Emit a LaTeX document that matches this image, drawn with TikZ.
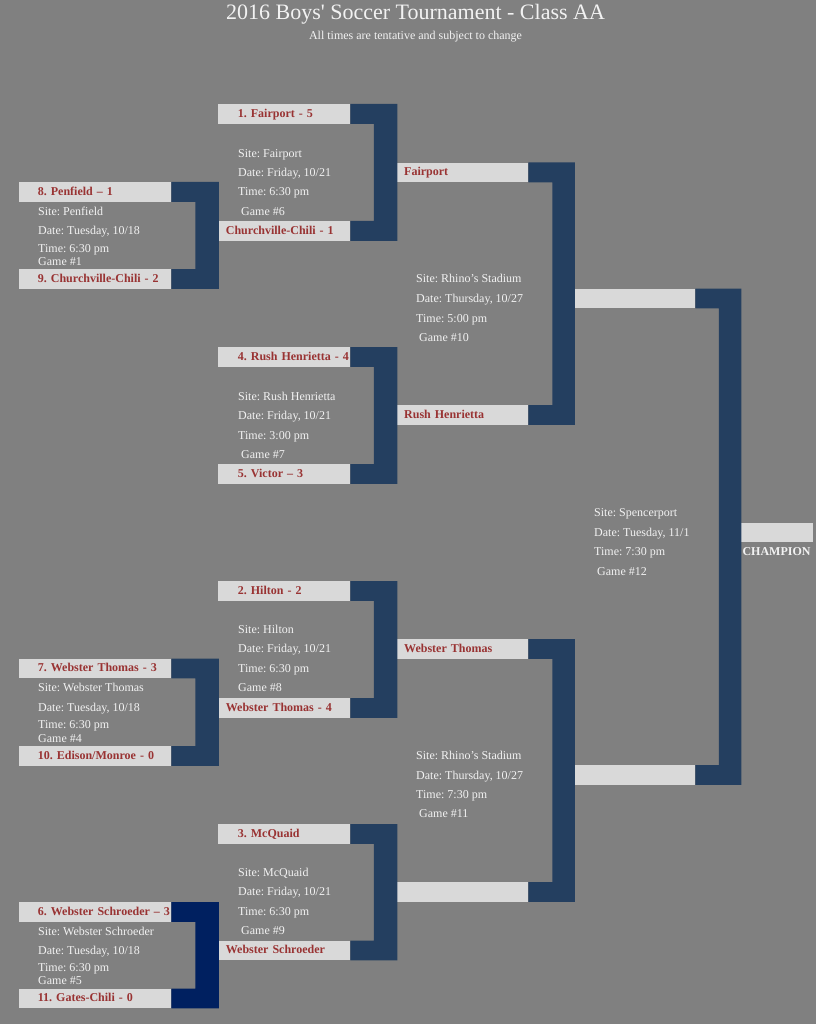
\documentclass[tikz,border=0pt]{standalone}
\usepackage{fontspec}
\setmainfont{Liberation Serif}[Ligatures=TeXOff]
\definecolor{bg}{HTML}{808080}
\definecolor{boxg}{HTML}{D9D9D9}
\definecolor{navy}{HTML}{243F60}
\definecolor{navyd}{HTML}{002060}
\definecolor{tred}{HTML}{993333}
\definecolor{tw}{HTML}{F2F2F2}
\tikzset{
  slot/.style 2 args={fill=boxg, anchor=north west, inner xsep=0pt, inner ysep=0pt,
    minimum height=19.4pt, text width=#1, align=left, text height=7.5pt, text depth=0.5pt,
    font=\fontsize{12}{14}\selectfont\bfseries, text=tred,
    execute at begin node={\frenchspacing\hspace*{#2}}},
  info/.style={anchor=base west, inner sep=0pt, text=tw, font=\fontsize{12}{14}\selectfont},
}
\newcommand\bracketfill[5][navy]{%
  \fill[#1] (#2.north east) -- ++(#5,0) |- (#3.south east) -- (#3.north east)
    -- ++(#4,0) |- (#2.south east) -- cycle;}
\begin{document}
\frenchspacing
\begin{tikzpicture}[x=1pt,y=-1pt]
\fill[bg] (0,0) rectangle (816,1024);
\useasboundingbox (0,0) rectangle (816,1024);

\node[anchor=base, inner sep=0pt, text=tw, font=\fontsize{22}{26}\selectfont] (title) at (415.5,19.6) {2016 Boys' Soccer Tournament - Class AA};
\node[anchor=base, inner sep=0pt, text=tw, font=\fontsize{12}{14}\selectfont] (sub) at (415.5,40) {All times are tentative and subject to change};

% Round 1
\node[slot={152.5pt}{19.2pt}] (g1t) at (18.5,182) {8. Penfield – 1};
\node[slot={152.5pt}{19.2pt}] (g1b) at (18.5,269) {9. Churchville-Chili - 2};
\node[slot={152.5pt}{19.2pt}] (g4t) at (18.5,658.5) {7. Webster Thomas - 3};
\node[slot={152.5pt}{19.2pt}] (g4b) at (18.5,746) {10. Edison/Monroe - 0};
\node[slot={152.5pt}{19.2pt}] (g5t) at (18.5,902) {6. Webster Schroeder – 3};
\node[slot={152.5pt}{19.2pt}] (g5b) at (18.5,988.5) {11. Gates-Chili - 0};
% Round 2
\node[slot={132pt}{19.7pt}] (g6t) at (218,104) {1. Fairport - 5};
\node[slot={132pt}{7.7pt}] (g6b) at (218,221) {Churchville-Chili - 1};
\node[slot={132pt}{19.7pt}] (g7t) at (218,347) {4. Rush Henrietta - 4};
\node[slot={132pt}{19.7pt}] (g7b) at (218,464) {5. Victor – 3};
\node[slot={132pt}{19.7pt}] (g8t) at (218,581) {2. Hilton - 2};
\node[slot={132pt}{7.7pt}] (g8b) at (218,698) {Webster Thomas - 4};
\node[slot={132pt}{19.7pt}] (g9t) at (218,824) {3. McQuaid};
\node[slot={132pt}{7.7pt}] (g9b) at (218,940.5) {Webster Schroeder};
% Round 3
\node[slot={131pt}{7pt}] (g10t) at (397,162.5) {Fairport};
\node[slot={131pt}{7pt}] (g10b) at (397,405) {Rush Henrietta};
\node[slot={131pt}{7pt}] (g11t) at (397,639) {Webster Thomas};
\node[slot={131pt}{7pt}] (g11b) at (397,882) {};
% Round 4
\node[slot={120.5pt}{7pt}] (g12t) at (574.5,288.5) {};
\node[slot={120.5pt}{7pt}] (g12b) at (574.5,765) {};
% Champion
\node[slot={72pt}{0pt}] (champ) at (741,522.5) {};
\node[anchor=base west, inner sep=0pt, text=tw, font=\fontsize{12}{14}\selectfont\bfseries] (champl) at (742.3,555.7) {CHAMPION};

% Brackets
\bracketfill{g1t}{g1b}{24}{47.5}
\bracketfill{g4t}{g4b}{24}{47.5}
\bracketfill[navyd]{g5t}{g5b}{24}{47.5}
\bracketfill{g6t}{g6b}{23.5}{47}
\bracketfill{g7t}{g7b}{23.5}{47}
\bracketfill{g8t}{g8b}{23.5}{47}
\bracketfill{g9t}{g9b}{23.5}{47}
\bracketfill{g10t}{g10b}{24}{46.5}
\bracketfill{g11t}{g11b}{24}{46.5}
\bracketfill{g12t}{g12b}{23.5}{46}

% Info: game 1
\node[info] (i1a) at (38,215) {Site: Penfield};
\node[info] (i1b) at (38,234.5) {Date: Tuesday, 10/18};
\node[info] (i1c) at (38,252.3) {Time: 6:30 pm};
\node[info] (i1d) at (38,265) {Game \#1};
% game 4
\node[info] (i4a) at (38,691.7) {Site: Webster Thomas};
\node[info] (i4b) at (38,711.5) {Date: Tuesday, 10/18};
\node[info] (i4c) at (38,728.3) {Time: 6:30 pm};
\node[info] (i4d) at (38,742.3) {Game \#4};
% game 5
\node[info] (i5a) at (38,935) {Site: Webster Schroeder};
\node[info] (i5b) at (38,954.3) {Date: Tuesday, 10/18};
\node[info] (i5c) at (38,971.3) {Time: 6:30 pm};
\node[info] (i5d) at (38,984.7) {Game \#5};
% game 6
\node[info] (i6a) at (238,157.3) {Site: Fairport};
\node[info] (i6b) at (238,176.7) {Date: Friday, 10/21};
\node[info] (i6c) at (238,196) {Time: 6:30 pm};
\node[info] (i6d) at (241,215.3) {Game \#6};
% game 7
\node[info] (i7a) at (238,400) {Site: Rush Henrietta};
\node[info] (i7b) at (238,419) {Date: Friday, 10/21};
\node[info] (i7c) at (238,439) {Time: 3:00 pm};
\node[info] (i7d) at (241,458) {Game \#7};
% game 8
\node[info] (i8a) at (238,633) {Site: Hilton};
\node[info] (i8b) at (238,652) {Date: Friday, 10/21};
\node[info] (i8c) at (238,672) {Time: 6:30 pm};
\node[info] (i8d) at (238,691) {Game \#8};
% game 9
\node[info] (i9a) at (238,876) {Site: McQuaid};
\node[info] (i9b) at (238,895) {Date: Friday, 10/21};
\node[info] (i9c) at (238,915.5) {Time: 6:30 pm};
\node[info] (i9d) at (241,934.5) {Game \#9};
% game 10
\node[info] (i10a) at (416,282.5) {Site: Rhino’s Stadium};
\node[info] (i10b) at (416,302) {Date: Thursday, 10/27};
\node[info] (i10c) at (416,322) {Time: 5:00 pm};
\node[info] (i10d) at (419,341) {Game \#10};
% game 11
\node[info] (i11a) at (416,759.3) {Site: Rhino’s Stadium};
\node[info] (i11b) at (416,779) {Date: Thursday, 10/27};
\node[info] (i11c) at (416,798.3) {Time: 7:30 pm};
\node[info] (i11d) at (419,817.3) {Game \#11};
% game 12
\node[info] (i12a) at (594,516.7) {Site: Spencerport};
\node[info] (i12b) at (594,536.3) {Date: Tuesday, 11/1};
\node[info] (i12c) at (594,555.3) {Time: 7:30 pm};
\node[info] (i12d) at (597,575) {Game \#12};
\end{tikzpicture}
\end{document}
